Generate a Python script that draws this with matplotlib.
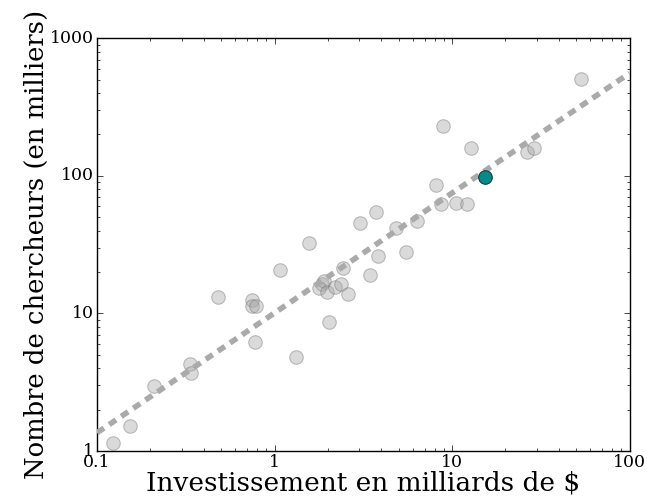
"""
Chercheurs vs investissement (log-log), avec droite d'ajustement.
"""

import numpy as np
import matplotlib
matplotlib.use('Agg')
import matplotlib.pyplot as plt

plt.style.use('classic')
plt.rcParams['font.family'] = ['DejaVu Serif']

# investissement (milliards de $) et chercheurs (milliers)
invest = [0.123, 0.153, 0.209, 0.333, 0.339, 0.481, 0.748, 0.748, 0.782,
          0.778, 1.07, 1.315, 1.56, 1.84, 1.9, 1.79, 1.97, 2.03, 2.19,
          2.44, 2.37, 2.58, 3.03, 3.72, 3.45, 3.85, 4.84, 5.51, 6.33,
          8.1, 8.65, 8.95, 10.5, 12.1, 12.8, 26.6, 28.8, 53.5]
chercheurs = [1.15, 1.53, 2.97, 4.29, 3.67, 13.2, 12.5, 11.4, 11.3,
              6.22, 20.7, 4.85, 32.3, 16.5, 17.2, 15.2, 14.4, 8.7, 15.5,
              21.3, 16.5, 13.8, 45.6, 54.3, 19.2, 26.1, 42.0, 28.1, 46.9,
              85.7, 62.4, 231, 63.8, 63.0, 159, 148, 159, 503]

# point mis en valeur
focus_x = [15.4]
focus_y = [98.5]

# droite d'ajustement : y = a * x**b
fit_a = 10.1
fit_b = 0.871
fit_x = [0.1, 100]

fig = plt.figure(figsize=(6.47, 5.04), dpi=100)
ax = fig.add_axes([0.150, 0.105, 0.823, 0.819])

ax.scatter(invest, chercheurs, s=95, c='#a8a8a8', edgecolors='#707070',
           alpha=0.42, linewidths=0.8, zorder=2)
ax.scatter(focus_x, focus_y, s=95, c='#008b8b', edgecolors='#1a3a3a',
           linewidths=0.8, zorder=4)

fx = np.array(fit_x)
ax.plot(fx, fit_a * fx ** fit_b, color='#aaaaaa', lw=4,
        dashes=(6, 4.5), zorder=3)

ax.set_xscale('log')
ax.set_yscale('log')
ax.set_xlim(0.1, 100)
ax.set_ylim(1, 1000)
ax.set_xticks([0.1, 1, 10, 100])
ax.set_xticklabels(['0.1', '1', '10', '100'])
ax.set_yticks([1, 10, 100, 1000])
ax.set_yticklabels(['1', '10', '100', '1000'])
ax.tick_params(labelsize=12.5, pad=2)

ax.set_xlabel('Investissement en milliards de $', fontsize=19, labelpad=0)
ax.set_ylabel('Nombre de chercheurs (en milliers)', fontsize=18.6,
              labelpad=1)

fig.savefig('out.png', dpi=100)
